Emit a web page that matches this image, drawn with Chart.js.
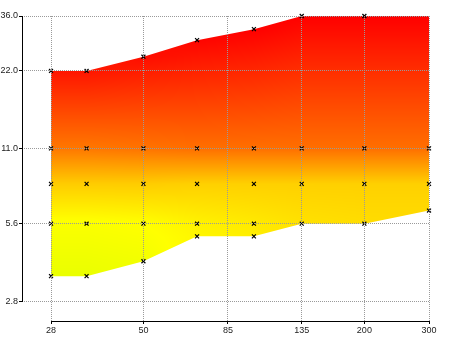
<!DOCTYPE html>
<html><head><meta charset="utf-8">
<script src="https://cdn.jsdelivr.net/npm/chart.js@4/dist/chart.umd.min.js"></script>
<style>html,body{margin:0;padding:0;background:#fff;overflow:hidden}#wrap{width:450px;height:337px;position:relative}</style>
</head><body><div id="wrap"><canvas id="c" width="450" height="337"></canvas></div>
<script>
// ---- data ----
const focalLengths = [28, 35, 50, 70, 100, 135, 200, 300];
const minApertureTop = [22, 22, 25, 29, 32, 36, 36, 36];      // largest f-number
const maxApertureBottom = [3.5, 3.5, 4, 5, 5, 5.6, 5.6, 6.3];  // smallest f-number
const midStops = [11, 8, 5.6];
const topMarked = [true, true, true, true, true, true, true, false];
const xTicks = [28, 50, 85, 135, 200, 300];
const yTicks = [2.8, 5.6, 11, 22, 36];
// colour index (hue, degrees) read at the marked points
const hueTop = [5, 5, 3, 1, 0, 0, 0, 0];
const hue11 = [28, 28, 27, 26, 26, 26, 26, 26];
const hue8 = [48, 48, 48, 49, 49, 49, 49, 49];
const hue56 = [61, 61, 60, 57, 55, 53, 52, null];
const hueBottom = [65, 65, 63, 58, 56, 53, 52, 51];

const topPts = focalLengths.map((f, i) => ({x: f, y: minApertureTop[i]}));
const bottomPts = focalLengths.map((f, i) => ({x: f, y: maxApertureBottom[i]}));
const markerPts = [];
focalLengths.forEach((f, i) => {
  if (topMarked[i]) markerPts.push({x: f, y: minApertureTop[i]});
  midStops.forEach(s => { if (s > maxApertureBottom[i]) markerPts.push({x: f, y: s}); });
  markerPts.push({x: f, y: maxApertureBottom[i]});
});

function hueToRgb(h) {
  if (h <= 60) return [255, Math.round(255 * h / 60), 0];
  return [Math.round(255 * (1 - (h - 60) / 60)), 255, 0];
}
let patCache = null, patKey = '';
function fieldPattern(chart) {
  const ca = chart.chartArea, xs = chart.scales.x, ys = chart.scales.y;
  if (!ca || !xs || !ys) return 'rgba(0,0,0,0)';
  const key = [ca.left, ca.top, ca.right, ca.bottom, chart.width, chart.height].join(',');
  if (patCache && patKey === key) return patCache;
  const W = chart.width, H = chart.height;
  const off = document.createElement('canvas'); off.width = W; off.height = H;
  const octx = off.getContext('2d');
  const img = octx.createImageData(W, H);
  const mids = [hue11, hue8, hue56];
  const cols = focalLengths.map((f, i) => {
    const nodes = [[ys.getPixelForValue(minApertureTop[i]), hueTop[i]]];
    midStops.forEach((s, k) => {
      const h = mids[k][i];
      if (h != null && s > maxApertureBottom[i]) nodes.push([ys.getPixelForValue(s), h]);
    });
    nodes.push([ys.getPixelForValue(maxApertureBottom[i]), hueBottom[i]]);
    return {x: xs.getPixelForValue(f), nodes};
  });
  function colHue(c, py) {
    const n = c.nodes;
    if (py <= n[0][0]) return n[0][1];
    for (let k = 0; k < n.length - 1; k++) {
      if (py <= n[k + 1][0]) {
        const t = (py - n[k][0]) / (n[k + 1][0] - n[k][0]);
        return n[k][1] + t * (n[k + 1][1] - n[k][1]);
      }
    }
    return n[n.length - 1][1];
  }
  for (let px = Math.floor(ca.left); px < Math.ceil(ca.right) + 1 && px < W; px++) {
    const cx = px + 0.5;
    let i = 0;
    while (i < cols.length - 2 && cx > cols[i + 1].x) i++;
    let t = (cx - cols[i].x) / (cols[i + 1].x - cols[i].x);
    t = Math.max(0, Math.min(1, t));
    for (let py = Math.floor(ca.top); py < Math.ceil(ca.bottom) && py < H; py++) {
      const cy = py + 0.5;
      const h = (1 - t) * colHue(cols[i], cy) + t * colHue(cols[i + 1], cy);
      const [r, g, b] = hueToRgb(h);
      const o = (py * W + px) * 4;
      img.data[o] = r; img.data[o + 1] = g; img.data[o + 2] = b; img.data[o + 3] = 255;
    }
  }
  octx.putImageData(img, 0, 0);
  patCache = chart.ctx.createPattern(off, 'no-repeat');
  patKey = key;
  return patCache;
}

const axisLines = {
  id: 'axisLines',
  afterDraw(chart) {
    const ctx = chart.ctx, ca = chart.chartArea, xs = chart.scales.x, ys = chart.scales.y;
    ctx.save();
    ctx.strokeStyle = '#000'; ctx.lineWidth = 1;
    const ax = Math.round(ca.left) + 0.5, ay = Math.round(ca.bottom) + 0.5;
    ctx.beginPath();
    ctx.moveTo(ax, Math.round(ys.getPixelForValue(yTicks[yTicks.length - 1])));
    ctx.lineTo(ax, Math.round(ys.getPixelForValue(yTicks[0])) + 1);
    ctx.moveTo(Math.round(xs.getPixelForValue(xTicks[0])), ay);
    ctx.lineTo(Math.round(xs.getPixelForValue(xTicks[xTicks.length - 1])) + 1, ay);
    ctx.stroke();
    ctx.restore();
  }
};

const FONT = {family: "'Liberation Sans', Arial, sans-serif", size: 9};

new Chart(document.getElementById('c'), {
  type: 'scatter',
  data: {
    datasets: [
      {type: 'scatter', data: markerPts, pointStyle: 'crossRot', pointRadius: 2.8,
       borderColor: '#000', backgroundColor: '#000', borderWidth: 1.2, clip: 4},
      {type: 'line', data: topPts, showLine: true, borderWidth: 0, borderColor: 'rgba(0,0,0,0)',
       pointRadius: 0, tension: 0, fill: '+1',
       backgroundColor: (c) => fieldPattern(c.chart)},
      {type: 'line', data: bottomPts, showLine: true, borderWidth: 0, borderColor: 'rgba(0,0,0,0)',
       pointRadius: 0, tension: 0, fill: false, backgroundColor: 'rgba(0,0,0,0)'}
    ]
  },
  options: {
    responsive: false, animation: false, events: [],
    layout: {padding: {top: 16, right: 21, left: 0, bottom: 0}},
    plugins: {legend: {display: false}, tooltip: {enabled: false}},
    scales: {
      x: {
        type: 'logarithmic', min: 23.34, max: 300,
        afterBuildTicks: s => { s.ticks = xTicks.map(v => ({value: v})); },
        afterFit: s => { s.height = 16; },
        ticks: {callback: v => String(v), color: '#222', font: FONT, padding: 1, maxRotation: 0, autoSkip: false},
        grid: {color: '#9a9a9a', lineWidth: 1, tickLength: 3, tickColor: '#000', tickBorderDash: [], tickWidth: 1, z: 1},
        border: {display: false, dash: [1, 1]}
      },
      y: {
        type: 'logarithmic', min: 2.342, max: 36,
        afterBuildTicks: s => { s.ticks = yTicks.map(v => ({value: v})); },
        afterFit: s => { s.width = 22; },
        ticks: {callback: v => Number(v).toFixed(1), color: '#222', font: FONT, padding: 1, autoSkip: false},
        grid: {color: '#9a9a9a', lineWidth: 1, tickLength: 3, tickColor: '#000', tickBorderDash: [], tickWidth: 1, z: 1},
        border: {display: false, dash: [1, 1]}
      }
    }
  },
  plugins: [axisLines]
});
</script>
</body></html>
